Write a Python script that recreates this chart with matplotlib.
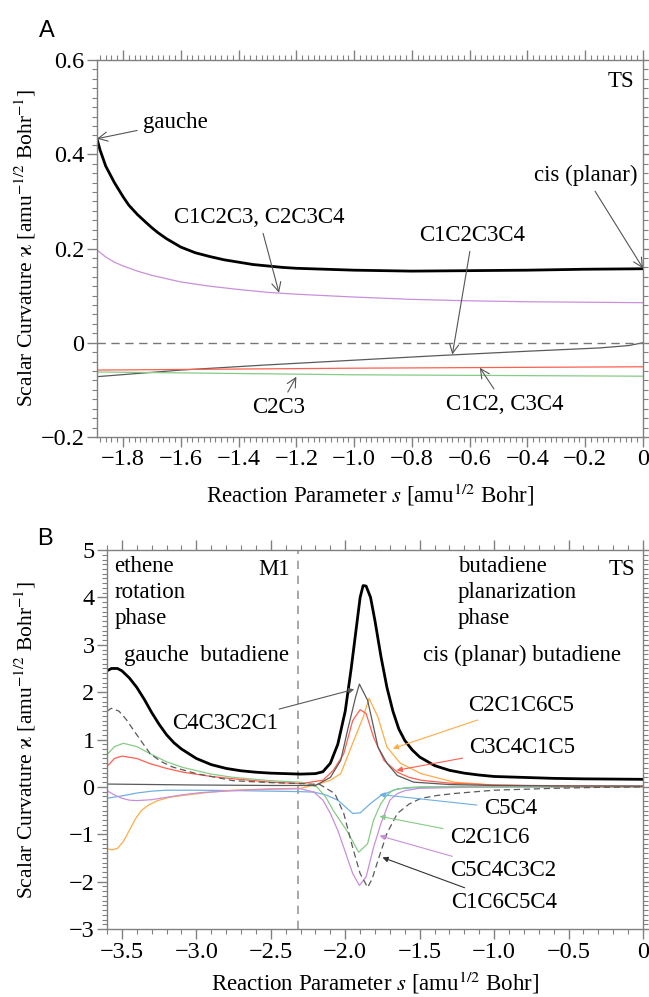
import matplotlib.pyplot as plt
from matplotlib.ticker import FixedLocator, MultipleLocator

plt.rcParams['font.family'] = ['Liberation Serif', 'DejaVu Serif']
plt.rcParams['mathtext.fontset'] = 'stix'

# ---------------- panel A data ----------------
a_black_s = [-1.89, -1.88, -1.86, -1.83, -1.8, -1.78, -1.75, -1.72, -1.7, -1.68, -1.65, -1.6,
             -1.55, -1.5, -1.45, -1.4, -1.35, -1.3, -1.25, -1.2, -1.1, -1.0, -0.8, -0.6,
             -0.4, -0.2, 0.0]
a_black_v = [0.433, 0.41, 0.375, 0.34, 0.31, 0.292, 0.272, 0.255, 0.244, 0.234, 0.221, 0.203,
             0.191, 0.183, 0.176, 0.171, 0.166, 0.163, 0.16, 0.158, 0.156, 0.154, 0.152, 0.153,
             0.154, 0.156, 0.157]
a_purple_s = [-1.89, -1.86, -1.83, -1.8, -1.75, -1.7, -1.6, -1.5, -1.4, -1.3, -1.2, -1.0, -0.8,
              -0.6, -0.4, -0.2, 0.0]
a_purple_v = [0.197, 0.182, 0.171, 0.163, 0.152, 0.143, 0.129, 0.12, 0.113, 0.107, 0.103, 0.097,
              0.092, 0.089, 0.087, 0.086, 0.085]
a_gray_s = [-1.89, -1.6, -1.3, -1.0, -0.7, -0.4, -0.15, -0.05, 0.0]
a_gray_v = [-0.072, -0.058, -0.047, -0.037, -0.027, -0.018, -0.011, -0.006, 0.0]
a_red_s = [-1.89, -1.0, 0.0]
a_red_v = [-0.058, -0.054, -0.051]
a_green_s = [-1.89, -1.0, 0.0]
a_green_v = [-0.062, -0.068, -0.071]

a_xticks = [-1.8, -1.6, -1.4, -1.2, -1.0, -0.8, -0.6, -0.4, -0.2, 0.0]
a_xlabels = ['\u22121.8', '\u22121.6', '\u22121.4', '\u22121.2', '\u22121.0', '\u22120.8',
             '\u22120.6', '\u22120.4', '\u22120.2', '0']
a_yticks = [-0.2, 0.0, 0.2, 0.4, 0.6]
a_ylabels = ['\u22120.2', '0', '0.2', '0.4', '0.6']

# ---------------- panel B data ----------------
b_black_s = [-3.6, -3.57, -3.53, -3.5, -3.45, -3.4, -3.35, -3.3, -3.25, -3.2, -3.15, -3.1,
             -3.0, -2.9, -2.8, -2.7, -2.6, -2.5, -2.4, -2.3, -2.2, -2.15, -2.1, -2.05, -2.0,
             -1.96, -1.92, -1.9, -1.88, -1.86, -1.83, -1.8, -1.76, -1.72, -1.68, -1.64, -1.6,
             -1.55, -1.5, -1.4, -1.3, -1.2, -1.1, -1.0, -0.8, -0.6, -0.4, -0.2, 0.0]
b_black_v = [2.45, 2.5, 2.5, 2.45, 2.3, 2.1, 1.85, 1.57, 1.32, 1.1, 0.93, 0.8,
             0.6, 0.47, 0.39, 0.34, 0.31, 0.29, 0.28, 0.27, 0.28, 0.32, 0.5, 0.9, 1.6,
             2.5, 3.5, 4.0, 4.25, 4.24, 4.0, 3.5, 2.75, 2.1, 1.6, 1.22, 0.98,
             0.78, 0.63, 0.45, 0.35, 0.29, 0.25, 0.22, 0.2, 0.18, 0.17, 0.165, 0.16]

b_gray_s = [-3.6, -3.3, -3.0, -2.5, -2.2, -2.1, -2.03, -1.985, -1.93, -1.905, -1.85, -1.78,
            -1.72, -1.65, -1.54, -1.3, -1.0, -0.5, 0.0]
b_gray_v = [0.06, 0.05, 0.04, 0.03, 0.03, 0.2, 0.56, 1.19, 1.9, 2.17, 1.83, 0.84,
            0.5, 0.24, 0.1, 0.05, 0.03, 0.02, 0.02]

b_dash_s = [-3.6, -3.57, -3.52, -3.47, -3.42, -3.36, -3.31, -3.24, -3.16, -3.0, -2.75, -2.5,
            -2.3, -2.17, -2.07, -2.01, -1.95, -1.9, -1.85, -1.82, -1.78, -1.72, -1.65, -1.57,
            -1.49, -1.38, -1.27, -1.0, -0.6, -0.3, 0.0]
b_dash_v = [1.6, 1.66, 1.6, 1.42, 1.19, 0.92, 0.7, 0.54, 0.42, 0.28, 0.13, 0.09,
            0.07, 0.05, -0.14, -0.56, -1.28, -1.83, -2.12, -1.95, -1.55, -0.98, -0.56, -0.36,
            -0.24, -0.18, -0.14, -0.07, -0.03, -0.01, 0.0]

b_purple_s = [-3.6, -3.55, -3.5, -3.45, -3.4, -3.3, -3.2, -3.1, -2.97, -2.7, -2.5, -2.3,
              -2.21, -2.15, -2.1, -2.05, -2.01, -1.95, -1.905, -1.86, -1.81, -1.76, -1.7,
              -1.65, -1.6, -1.5, -1.2, -0.8, 0.0]
b_purple_v = [-0.08, -0.17, -0.24, -0.28, -0.29, -0.27, -0.22, -0.17, -0.12, -0.07, -0.05, -0.04,
              -0.11, -0.28, -0.56, -0.92, -1.28, -1.83, -2.08, -1.9, -1.28, -0.77, -0.28,
              -0.14, -0.08, -0.03, -0.01, 0.0, 0.0]

b_green_s = [-3.6, -3.55, -3.49, -3.4, -3.31, -3.2, -3.09, -2.9, -2.75, -2.5, -2.3, -2.19,
             -2.13, -2.08, -1.99, -1.91, -1.85, -1.81, -1.76, -1.72, -1.68, -1.6, -1.5,
             -1.2, -0.6, 0.0]
b_green_v = [0.68, 0.85, 0.92, 0.85, 0.7, 0.53, 0.41, 0.27, 0.2, 0.13, 0.1, 0.0,
             -0.22, -0.5, -0.92, -1.38, -1.2, -0.7, -0.35, -0.18, -0.07, -0.02, 0.0,
             0.01, 0.0, 0.0]

b_red_s = [-3.6, -3.55, -3.5, -3.4, -3.31, -3.2, -3.09, -2.9, -2.75, -2.5, -2.3, -2.15,
           -2.08, -2.01, -1.95, -1.9, -1.86, -1.81, -1.74, -1.65, -1.57, -1.49, -1.3, -1.0,
           -0.5, 0.0]
b_red_v = [0.43, 0.6, 0.65, 0.6, 0.49, 0.39, 0.31, 0.22, 0.17, 0.1, 0.07, 0.14,
           0.35, 0.7, 1.4, 1.63, 1.55, 1.05, 0.56, 0.31, 0.2, 0.14, 0.08, 0.04,
           0.02, 0.01]

b_orange_s = [-3.6, -3.57, -3.53, -3.49, -3.45, -3.41, -3.37, -3.32, -3.26, -3.18, -3.09, -2.9,
              -2.75, -2.5, -2.3, -2.17, -2.1, -2.03, -1.95, -1.88, -1.84, -1.78, -1.72, -1.63,
              -1.49, -1.27, -1.0, -0.5, 0.0]
b_orange_v = [-1.3, -1.33, -1.3, -1.15, -0.92, -0.68, -0.5, -0.38, -0.29, -0.22, -0.18, -0.11,
              -0.07, -0.04, -0.03, 0.07, 0.14, 0.28, 0.92, 1.47, 1.87, 1.47, 0.84, 0.5,
              0.28, 0.1, 0.04, 0.01, 0.0]

b_blue_s = [-3.6, -3.5, -3.4, -3.3, -3.2, -3.0, -2.7, -2.5, -2.3, -2.21, -2.13, -2.05, -1.95,
            -1.9, -1.83, -1.76, -1.65, -1.5, -1.0, 0.0]
b_blue_v = [-0.24, -0.19, -0.13, -0.09, -0.07, -0.07, -0.08, -0.09, -0.1, -0.11, -0.17, -0.28,
            -0.56, -0.55, -0.35, -0.18, -0.04, -0.01, 0.0, 0.0]

b_xticks = [-3.5, -3.0, -2.5, -2.0, -1.5, -1.0, -0.5, 0.0]
b_xlabels = ['\u22123.5', '\u22123.0', '\u22122.5', '\u22122.0', '\u22121.5', '\u22121.0', '\u22120.5', '0']
b_yticks = [-3, -2, -1, 0, 1, 2, 3, 4, 5]
b_ylabels = ['\u22123', '\u22122', '\u22121', '0', '1', '2', '3', '4', '5']
m1_s = -2.32

# colours
c_gray = '#5a5a5a'
c_purple = '#c98fdc'
c_red = '#ff5f4f'
c_green = '#85cc85'
c_orange = '#ffac45'
c_blue = '#6fb0e2'

xlabel = r'Reaction Parameter $s$ [amu$^{1/2}$ Bohr]'
ylabel = r'Scalar Curvature ϰ [amu$^{-1/2}$ Bohr$^{-1}$]'
fs = 16.5      # annotations
fs_tick = 17.5
fs_xlab = 16.5
fs_ylab = 15.5


def style_axes(ax):
    for sp in ax.spines.values():
        sp.set_color('#808080')
        sp.set_linewidth(1.0)
    ax.tick_params(which='both', direction='out', top=True, right=True,
                   color='#808080', labelsize=fs_tick)
    ax.tick_params(which='major', length=7, width=1.0, pad=2)
    ax.tick_params(which='minor', length=3.5, width=0.8)


fig = plt.figure(figsize=(6.49, 9.97), dpi=100)

# ---------------- panel A ----------------
axA = fig.add_axes([0.1495, 0.5617, 0.8413, 0.3781])
axA.plot(a_black_s, a_black_v, color='black', lw=2.0)
axA.plot(a_purple_s, a_purple_v, color=c_purple, lw=0.9)
axA.plot(a_gray_s, a_gray_v, color=c_gray, lw=0.9)
axA.plot(a_red_s, a_red_v, color=c_red, lw=0.9)
axA.plot(a_green_s, a_green_v, color=c_green, lw=0.9)
axA.axhline(0, color='#777777', lw=1.0, ls=(0, (6, 4)))
axA.set_xlim(-1.89, 0)
axA.set_ylim(-0.2, 0.6)
axA.xaxis.set_major_locator(FixedLocator(a_xticks))
axA.set_xticklabels(a_xlabels)
axA.yaxis.set_major_locator(FixedLocator(a_yticks))
axA.set_yticklabels(a_ylabels)
axA.xaxis.set_minor_locator(MultipleLocator(0.02))
axA.yaxis.set_minor_locator(MultipleLocator(0.02))
style_axes(axA)
axA.set_xlabel(xlabel, fontsize=fs_xlab, labelpad=8)
axA.set_ylabel(ylabel, fontsize=fs_ylab)
axA.yaxis.set_label_coords(-0.108, 0.5)

arrA = dict(arrowstyle='->', color='#555555', lw=0.8, shrinkA=2, shrinkB=0)
axA.annotate('gauche', xy=(-1.89, 0.433), xytext=(-1.62, 0.467), fontsize=fs,
             ha='center', va='center', arrowprops=arrA)
axA.text(-0.03, 0.555, 'TS', fontsize=fs, ha='right', va='center')
axA.annotate('cis (planar)', xy=(0, 0.158), xytext=(-0.2, 0.355), fontsize=fs,
             ha='center', va='center', arrowprops=arrA)
axA.annotate('C1C2C3, C2C3C4', xy=(-1.26, 0.106), xytext=(-1.33, 0.266), fontsize=fs,
             ha='center', va='center', arrowprops=arrA)
axA.annotate('C1C2C3C4', xy=(-0.66, -0.025), xytext=(-0.59, 0.228), fontsize=fs,
             ha='center', va='center', arrowprops=arrA)
axA.annotate('C2C3', xy=(-1.2, -0.072), xytext=(-1.26, -0.138), fontsize=fs,
             ha='center', va='center', arrowprops=arrA)
axA.annotate('C1C2, C3C4', xy=(-0.565, -0.053), xytext=(-0.48, -0.131), fontsize=fs,
             ha='center', va='center', arrowprops=arrA)

fig.text(0.072, 0.969, 'A', fontsize=17, family='Liberation Sans', ha='center', va='center')

# ---------------- panel B ----------------
axB = fig.add_axes([0.1649, 0.0682, 0.8259, 0.3801])
axB.axvline(m1_s, color='#999999', lw=1.2, ls=(0, (5, 4)))
axB.plot(b_blue_s, b_blue_v, color=c_blue, lw=0.9)
axB.plot(b_orange_s, b_orange_v, color=c_orange, lw=0.9)
axB.plot(b_purple_s, b_purple_v, color=c_purple, lw=0.9)
axB.plot(b_green_s, b_green_v, color=c_green, lw=0.9)
axB.plot(b_red_s, b_red_v, color=c_red, lw=0.9)
axB.plot(b_gray_s, b_gray_v, color=c_gray, lw=0.9)
axB.plot(b_dash_s, b_dash_v, color=c_gray, lw=0.9, ls=(0, (5, 3)))
axB.plot(b_black_s, b_black_v, color='black', lw=2.0)
axB.set_xlim(-3.6, 0)
axB.set_ylim(-3, 5)
axB.xaxis.set_major_locator(FixedLocator(b_xticks))
axB.set_xticklabels(b_xlabels)
axB.yaxis.set_major_locator(FixedLocator(b_yticks))
axB.set_yticklabels(b_ylabels)
axB.xaxis.set_minor_locator(MultipleLocator(0.1))
axB.yaxis.set_minor_locator(MultipleLocator(0.1))
style_axes(axB)
axB.set_xlabel(xlabel, fontsize=fs_xlab, labelpad=5)
axB.set_ylabel(ylabel, fontsize=fs_ylab)
axB.yaxis.set_label_coords(-0.128, 0.5)

axB.text(-3.55, 4.11, 'ethene\nrotation\nphase', fontsize=fs, ha='left', va='center',
         linespacing=1.3)
axB.text(-2.37, 4.58, 'M1', fontsize=fs, ha='right', va='center')
axB.text(-2.93, 2.78, 'gauche  butadiene', fontsize=fs, ha='center', va='center')
axB.text(-1.245, 4.11, 'butadiene\nplanarization\nphase', fontsize=fs, ha='left', va='center',
         linespacing=1.3)
axB.text(-0.05, 4.58, 'TS', fontsize=fs, ha='right', va='center')
axB.text(-0.81, 2.78, 'cis (planar) butadiene', fontsize=fs, ha='center', va='center')


def arrB(col):
    return dict(arrowstyle='-|>', color=col, lw=0.8, mutation_scale=8, shrinkA=3, shrinkB=0)


axB.annotate('C4C3C2C1', xy=(-1.94, 2.06), xytext=(-2.81, 1.34), fontsize=fs,
             ha='center', va='center', arrowprops=arrB(c_gray))
axB.annotate('C2C1C6C5', xy=(-1.68, 0.81), xytext=(-0.82, 1.72), fontsize=fs,
             ha='center', va='center', arrowprops=arrB(c_orange))
axB.annotate('C3C4C1C5', xy=(-1.655, 0.35), xytext=(-0.81, 0.84), fontsize=fs,
             ha='center', va='center', arrowprops=arrB(c_red))
axB.annotate('C5C4', xy=(-1.77, -0.16), xytext=(-0.89, -0.46), fontsize=fs,
             ha='center', va='center', arrowprops=arrB(c_blue))
axB.annotate('C2C1C6', xy=(-1.77, -0.62), xytext=(-1.03, -1.07), fontsize=fs,
             ha='center', va='center', arrowprops=arrB(c_green))
axB.annotate('C5C4C3C2', xy=(-1.77, -1.03), xytext=(-0.94, -1.77), fontsize=fs,
             ha='center', va='center', arrowprops=arrB(c_purple))
axB.annotate('C1C6C5C4', xy=(-1.75, -1.49), xytext=(-0.93, -2.44), fontsize=fs,
             ha='center', va='center', arrowprops=arrB('#333333'))

fig.text(0.069, 0.459, 'B', fontsize=17, family='Liberation Sans', ha='center', va='center')

fig.savefig('out.png', dpi=100)
